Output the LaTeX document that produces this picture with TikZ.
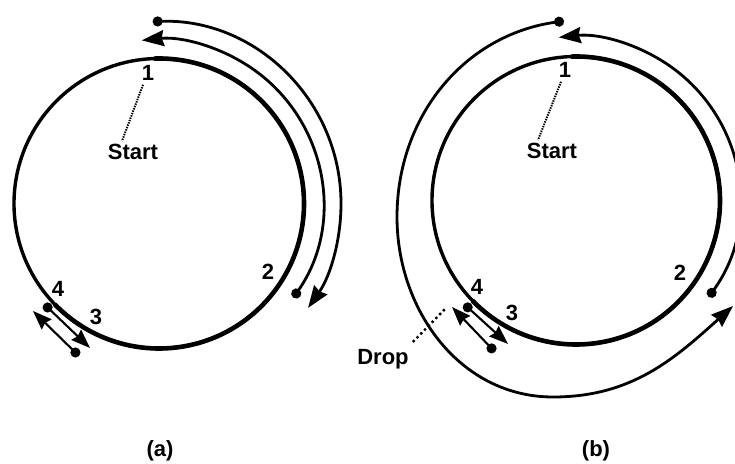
\documentclass[tikz,border=0pt]{standalone}
\usepackage{fontspec}
\setmainfont{Liberation Sans}
\usetikzlibrary{arrows.meta,calc}
\tikzset{
  ring/.style={line width=3.4pt},
  ringbold/.style={line width=4.6pt},
  hop/.style={line width=2.8pt,
              {Circle[length=10pt]}-{Stealth[length=22pt,width=16pt,inset=2pt]}},
  bounce/.style={line width=2.1pt,
                 {Circle[length=10pt]}-{Stealth[length=19pt,width=14pt,inset=2pt]}},
  lbl/.style={font=\fontsize{22}{26}\selectfont\bfseries, inner sep=0pt},
  lead/.style={line width=2pt, dash pattern=on 1.4pt off 1.1pt},
  droplead/.style={line width=2.4pt, dash pattern=on 2.4pt off 3pt}
}

\begin{document}
\begin{tikzpicture}[x=1pt,y=1pt]
  \useasboundingbox (0,0) rectangle (735,463);
  \clip (0,0) rectangle (735,463);

  % (a)
  \coordinate (ca) at (159,259.5);
  \draw[ring] (ca) circle[radius=145];
  \draw[ringbold] ($(ca)+(92:145)$) arc[start angle=92, end angle=-136, radius=145];
  \node[lbl] (a1) at (148,390) {1};
  \node[lbl] (astart) at (133,311) {Start};
  \node[lbl] (a2) at (268,191) {2};
  \node[lbl] (a4) at (58,174) {4};
  \node[lbl] (a3) at (96,146) {3};
  \draw[lead] ([xshift=-5pt,yshift=-4pt]a1.south) -- ([xshift=-11pt,yshift=3pt]astart.north);
  \draw[hop] ($(ca)+(-35:164)$) arc[start angle=-35, end angle=96, radius=164];
  \draw[hop] ($(ca)+(92:182)$) arc[start angle=92, end angle=-35, radius=182];
  \coordinate (a4in) at (44,159);
  \coordinate (a3in) at (90,115);
  \coordinate (a3out) at (79,107);
  \coordinate (a4out) at (33,152);
  \draw[bounce] (a4in) -- (a3in);
  \draw[bounce] (a3out) -- (a4out);
  \node[lbl] (capa) at (160,12) {(a)};

  % (b)
  \coordinate (cb) at (576,262.5);
  \draw[ring] (cb) circle[radius=144];
  \draw[ringbold] ($(cb)+(92:144)$) arc[start angle=92, end angle=-136, radius=144];
  \node[lbl] (b1) at (565,393) {1};
  \node[lbl] (bstart) at (552,312) {Start};
  \node[lbl] (b2) at (680,190) {2};
  \node[lbl] (b4) at (477,176) {4};
  \node[lbl] (b3) at (512,150) {3};
  \node[lbl] (bdrop) at (383,104) {Drop};
  \draw[lead] ([xshift=-4pt,yshift=-4pt]b1.south) -- ([xshift=-14pt,yshift=3pt]bstart.north);
  \coordinate (bdropend) at (446,155);
  \draw[droplead] ([xshift=4pt,yshift=7pt]bdrop.north east) -- (bdropend);
  \draw[hop] ($(cb)+(-36:164)$) arc[start angle=-36, end angle=96, radius=164];
  \coordinate (bs0) at (564,442);
  \coordinate (bs1) at (397,246);
  \coordinate (bs2) at (553,66);
  \coordinate (bs3) at (733,157);
  \draw[hop] (bs0) to[out=188,in=90] (bs1) to[out=270,in=180] (bs2) to[out=0,in=222] (bs3);
  \coordinate (b4in) at (464,159);
  \coordinate (b3in) at (508,119);
  \coordinate (b3out) at (495,111);
  \coordinate (b4out) at (452,156);
  \draw[bounce] (b4in) -- (b3in);
  \draw[bounce] (b3out) -- (b4out);
  \node[lbl] (capb) at (596,12) {(b)};
\end{tikzpicture}
\end{document}
